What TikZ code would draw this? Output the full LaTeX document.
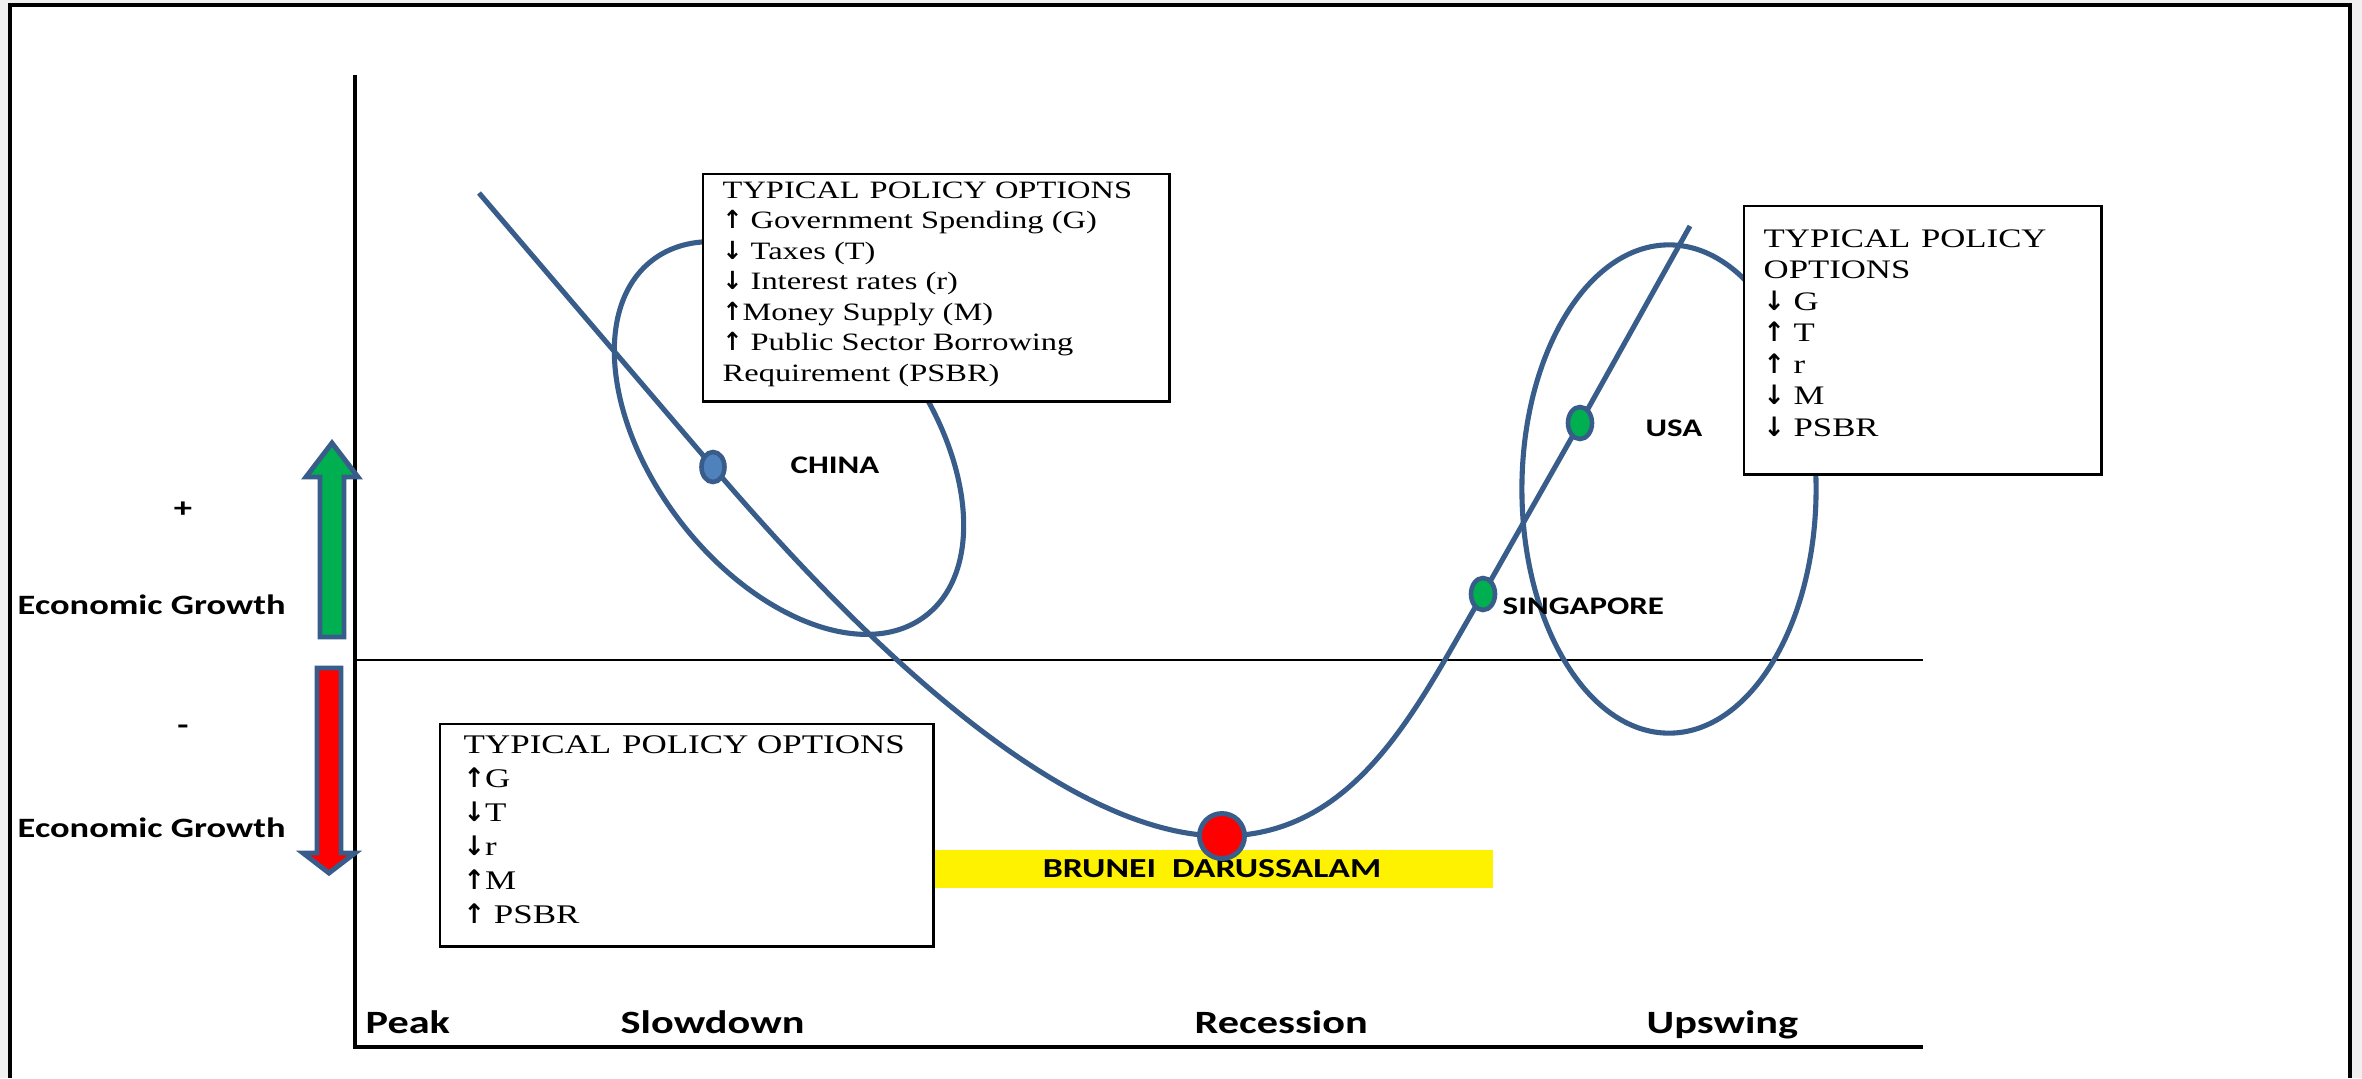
\documentclass[tikz,border=0pt]{standalone}
\usepackage{fontspec}
\usetikzlibrary{shapes.geometric}
\newfontfamily\serf{Liberation Serif}[FakeStretch=1.3]
\newfontfamily\labf{Carlito}[FakeStretch=1.3]
\newfontfamily\arrf{DejaVu Sans}[FakeStretch=0.95]
\newcommand{\myup}{{\arrf\bfseries ↑}}
\newcommand{\mydown}{{\arrf\bfseries ↓}}
\definecolor{cblue}{RGB}{56,93,138}
\definecolor{dotblue}{RGB}{79,129,189}
\definecolor{ggreen}{RGB}{0,176,80}
\definecolor{bgrey}{RGB}{240,240,240}
\tikzset{
  curve/.style={draw=cblue, line width=1.45pt},
  axisline/.style={draw=black, line width=0.9pt},
  midline/.style={draw=black, line width=0.6pt},
  pbox/.style={draw=black, fill=white, line width=0.7pt, inner sep=0pt, anchor=north west},
  ptext/.style={anchor=north west, inner sep=0pt, align=left},
  dot/.style={ellipse, draw=cblue, line width=1.3pt, inner sep=0pt},
  growarrow/.style={draw=cblue, line width=1.4pt, line join=miter},
  labl/.style={inner sep=0pt, font=\labf\bfseries\fontsize{7.2pt}{8.6pt}\selectfont},
  phase/.style={inner sep=0pt, anchor=base west, font=\labf\bfseries\fontsize{9.25pt}{11pt}\selectfont},
  growth/.style={inner sep=0pt, anchor=base west, font=\labf\bfseries\fontsize{7.97pt}{9.5pt}\selectfont},
  sign/.style={inner sep=0pt, font=\labf\bfseries\fontsize{8pt}{9.5pt}\selectfont},
}
\begin{document}
\begin{tikzpicture}[x=0.01cm,y=-0.01cm]
\useasboundingbox (0,0) rectangle (2362,1078);
% page background and frame
\fill[bgrey] (0,0) rectangle (2362,1078);
\fill[white] (10,5) rectangle (2350,1078);
\draw[line width=1.1pt] (10,1078) -- (10,5) -- (2350,5) -- (2350,1078);

% axes
\coordinate (ytop) at (355,75);
\coordinate (orig) at (355,1047);
\coordinate (xend) at (1923,1047);
\coordinate (mid0) at (355,660);
\coordinate (mid1) at (1923,660);
\draw[axisline] (ytop) -- (orig) -- (xend);
\draw[midline] (mid0) -- (mid1);

% growth arrows
\draw[growarrow, fill=ggreen] (320,637) -- (320,477) -- (306,477) -- (332,443) -- (358,477) -- (344,477) -- (344,637) -- cycle;
\draw[growarrow, fill=red] (317,668) -- (341,668) -- (341,853) -- (355,853) -- (329,873) -- (303,853) -- (317,853) -- cycle;

% side texts
\node[sign] (plus) at (183,510) {+};
\node[sign] (minus) at (183,730) {-};
\node[growth] (eg1) at (17,614) {Economic Growth};
\node[growth] (eg2) at (17,837) {Economic Growth};

% phase labels
\node[phase] (peak) at (365,1033) {Peak};
\node[phase] (slow) at (620,1033) {Slowdown};
\node[phase] (rec) at (1194,1033) {Recession};
\node[phase] (up) at (1646,1033) {Upswing};

% yellow band
\node[fill=yellow, minimum width=5.61cm, minimum height=0.38cm, inner sep=0pt,
      font=\labf\bfseries\fontsize{7.82pt}{9.3pt}\selectfont] (band) at (1212,869) {BRUNEI\ \ DARUSSALAM};

% curve points
\coordinate (cstart) at (479,193);
\coordinate (china) at (713,467);
\coordinate (brunei) at (1222,836);
\coordinate (sing) at (1483,594);
\coordinate (usa) at (1580,423);
\coordinate (cend) at (1690,226);

% main cycle curve
\draw[curve] (cstart) -- (china) .. controls (810,580) and (1040,836) .. (brunei)
  .. controls (1360,836) and (1420,700) .. (sing) -- (usa) -- (cend);

% ellipses
\draw[curve, rotate around={-52.4:(789,438)}] (789,438) ellipse [x radius=2.241cm, y radius=1.37cm];
\draw[curve] (1669,489) ellipse [x radius=1.47cm, y radius=2.44cm];

% policy boxes
\node[pbox, minimum width=4.66cm, minimum height=2.27cm] (box1) at (702,173) {};
\node[ptext, font=\serf\fontsize{7.1pt}{8.68pt}\selectfont] (t1) at (722,181)
{TYPICAL\hspace{0.4em}POLICY OPTIONS\\
\myup{} Government Spending (G)\\
\mydown{} Taxes (T)\\
\mydown{} Interest rates (r)\\
\myup{}Money Supply (M)\\
\myup{} Public Sector Borrowing\\
Requirement (PSBR)};

\node[pbox, minimum width=3.57cm, minimum height=2.68cm] (box2) at (1743,205) {};
\node[ptext, font=\serf\fontsize{7.6pt}{8.96pt}\selectfont] (t2) at (1763,229)
{TYPICAL\hspace{0.4em}POLICY\\
OPTIONS\\
\mydown{} G\\
\myup{} T\\
\myup{} r\\
\mydown{} M\\
\mydown{} PSBR};

\node[pbox, minimum width=4.93cm, minimum height=2.22cm] (box3) at (439,723) {};
\node[ptext, font=\serf\fontsize{7.65pt}{9.67pt}\selectfont] (t3) at (463,735)
{TYPICAL\hspace{0.4em}POLICY OPTIONS\\
\myup{}G\\
\mydown{}T\\
\mydown{}r\\
\myup{}M\\
\myup{} PSBR};

% country dots
\node[dot, fill=dotblue, minimum width=0.23cm, minimum height=0.30cm] (chinadot) at (china) {};
\node[dot, fill=ggreen, minimum width=0.24cm, minimum height=0.32cm] (singdot) at (sing) {};
\node[dot, fill=ggreen, minimum width=0.24cm, minimum height=0.32cm] (usadot) at (usa) {};
\node[circle, draw=cblue, line width=1.4pt, fill=red, minimum size=0.45cm, inner sep=0pt] (bruneidot) at (brunei) {};

% country labels
\node[labl, anchor=base west] (chinal) at (790,473) {CHINA};
\node[labl, anchor=base west] (usal) at (1645,436) {USA};
\node[labl, anchor=base west] (singl) at (1502,614) {SINGAPORE};
\end{tikzpicture}
\end{document}
